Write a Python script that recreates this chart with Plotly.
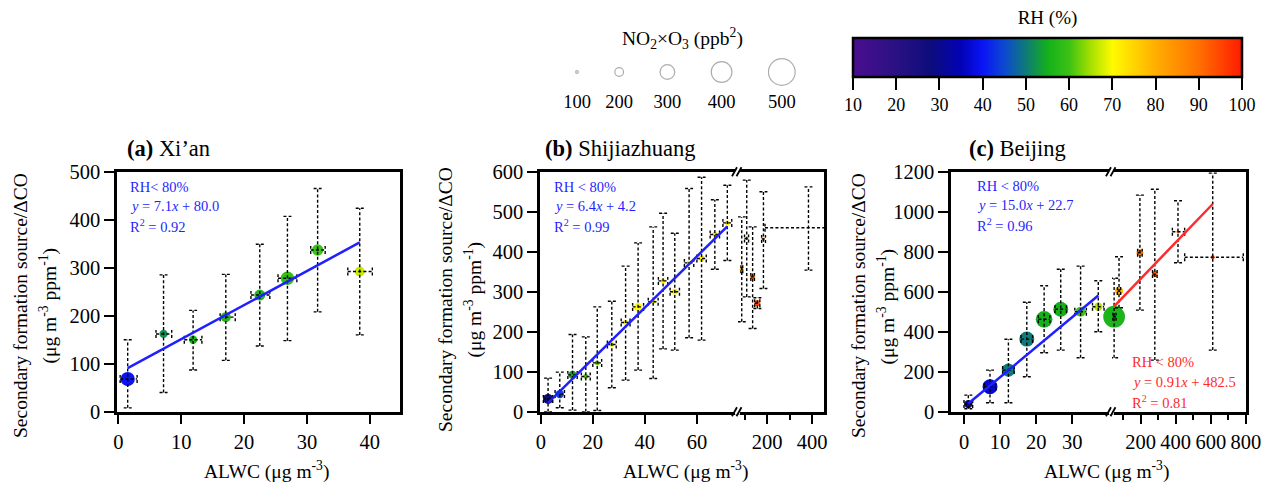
import plotly.graph_objects as go

W, H = 1261, 485
FONT = "Liberation Serif"

# ---------------- data ----------------
# (a) Xi'an
a_alwc = [1.5, 7.2, 11.9, 17.1, 22.5, 26.9, 31.7, 38.4]
a_val = [68, 162, 150, 197, 243, 278, 337, 292]
a_ylo = [8, 40, 87, 107, 137, 148, 208, 160]
a_yhi = [150, 285, 211, 286, 349, 407, 465, 424]
a_xlo = [0.3, 6.0, 10.5, 16.2, 21.1, 25.4, 30.6, 36.5]
a_xhi = [3.0, 8.5, 13.3, 18.6, 24.1, 28.4, 32.9, 40.4]
a_rh = [40, 52, 56, 57, 57, 59, 60, 67]
a_no2o3 = [293, 193, 193, 222, 238, 277, 245, 222]

# (b) Shijiazhuang
b_alwc = [2.8, 7.3, 12.2, 17.3, 21.7, 27.3, 32.6, 37.4, 43.2, 47.0, 51.5, 57.0, 61.8, 66.9, 71.7,
          87.6, 109.8, 136, 157, 184, 384]
b_val = [32, 44, 92, 88, 122, 168, 223, 262, 275, 327, 300, 372, 383, 443, 472,
         356, 433, 337, 271, 432, 460]
b_ylo = [0, 10, 4, 0, 3, 60, 79, 104, 83, 157, 154, 185, 179, 356, 378,
         225, 287, 208, 258, 308, 354]
b_yhi = [84, 99, 193, 187, 262, 276, 364, 422, 462, 496, 446, 558, 586, 530, 566,
         487, 579, 462, 285, 550, 562]
b_xlo = [1.0, 5.5, 10.4, 15.6, 20.0, 25.6, 30.9, 35.3, 41.3, 45.2, 49.7, 55.2, 60.0, 65.1, 70.0,
         84, 100, 128, 145, 176, 191]
b_xhi = [4.6, 9.1, 14.0, 19.0, 23.4, 29.0, 34.3, 39.5, 45.1, 48.8, 53.3, 58.8, 63.6, 68.7, 73.4,
         92, 118, 144, 168, 193, 470]
b_rh = [28, 45, 54, 61, 62, 69, 70, 70, 70, 71, 71, 71, 72, 74, 72,
        79, 84, 92, 95, 86, 90]
b_no2o3 = [222, 193, 193, 138, 138, 138, 138, 193, 138, 138, 155, 138, 155, 138, 138,
           122, 105, 138, 155, 105, 90]

# (c) Beijing
c_alwc = [1.2, 7.2, 12.3, 17.4, 22.2, 26.8, 32.3, 37.2, 49, 77, 196, 281, 413, 611]
c_val = [38, 125, 208, 363, 462, 512, 500, 525, 475, 603, 795, 688, 900, 772]
c_ylo = [15, 45, 45, 175, 295, 308, 270, 400, 270, 520, 508, 258, 745, 308]
c_yhi = [83, 208, 362, 547, 630, 712, 728, 655, 667, 775, 1083, 1112, 1055, 1193]
c_xlo = [0.0, 5.6, 10.7, 15.8, 20.6, 25.2, 30.7, 35.6, 42, 68, 183, 268, 381, 451]
c_xhi = [2.4, 8.8, 13.9, 19.0, 23.8, 28.4, 33.9, 38.8, 60, 86, 209, 294, 451, 785]
c_rh = [28, 37, 50, 50, 55, 55, 60, 66, 56, 79, 89, 93, 92, 97]
c_no2o3 = [193, 305, 277, 305, 333, 305, 222, 193, 417, 193, 167, 155, 105, 122]

# fits (slope, intercept)
fit_a = (7.1, 80.0)
fit_b = (6.4, 4.2)
fit_c_low = (15.0, 22.7)
fit_c_high = (0.91, 482.5)

legend_no2o3 = [100, 200, 300, 400, 500]
rh_ticks = [10, 20, 30, 40, 50, 60, 70, 80, 90, 100]

CS = [
    [0.000, '#4a0e8f'], [0.111, '#2a1183'], [0.200, '#0d0c7c'], [0.280, '#0202b8'],
    [0.333, '#0a14f5'], [0.390, '#0c4ad0'], [0.444, '#0f7a78'], [0.500, '#13b01c'],
    [0.556, '#3cc214'], [0.611, '#a6e000'], [0.667, '#fffa00'], [0.778, '#ffae00'],
    [0.889, '#ff7000'], [1.000, '#ff1a00'],
]

BLUE = '#1f1fff'
RED = '#ff2a2a'


def px2x(px):
    return px / W


def py2y(py):
    return (H - py) / H


def msize(v):
    return max(2.0, 0.06 * v - 3.3)


Y_TOP, Y_BOT = 171.7, 411.7
Y_DOM = [py2y(Y_BOT), py2y(Y_TOP)]

SEG = {
    'a': dict(xa='x', ya='y', dom=(117, 400), rng=(-0.2, 44.8), ymax=500),
    'bl': dict(xa='x2', ya='y2', dom=(540, 738), rng=(-0.3, 75.8), ymax=600),
    'br': dict(xa='x3', ya='y3', dom=(738, 824), rng=(71, 453), ymax=600),
    'cl': dict(xa='x4', ya='y4', dom=(951, 1112), rng=(-3.6, 41), ymax=1200),
    'cr': dict(xa='x5', ya='y5', dom=(1112, 1246), rng=(37, 800.5), ymax=1200),
}

fig = go.Figure()


def add_segment(seg, xs, ys, ylo, yhi, xlo, xhi, rh, no2o3, fit=None, fitcolor=BLUE):
    s = SEG[seg]
    if not xs:
        return
    ux = (s['rng'][1] - s['rng'][0]) / (s['dom'][1] - s['dom'][0])
    uy = s['ymax'] / (Y_BOT - Y_TOP)
    cx, cy = 4 * ux, 4 * uy
    fig.add_trace(go.Scatter(
        x=xs, y=ys, mode='markers', xaxis=s['xa'], yaxis=s['ya'],
        marker=dict(size=[msize(v) for v in no2o3], color=rh, coloraxis='coloraxis',
                    line=dict(width=0), opacity=1),
        cliponaxis=False, showlegend=False, hoverinfo='skip'))
    lx, ly = [], []
    for x, y, lo, hi, xl, xh in zip(xs, ys, ylo, yhi, xlo, xhi):
        lx += [x, x, None, x - cx, x + cx, None, x - cx, x + cx, None]
        ly += [lo, hi, None, lo, lo, None, hi, hi, None]
        lx += [xl, xh, None, xl, xl, None, xh, xh, None]
        ly += [y, y, None, y - cy, y + cy, None, y - cy, y + cy, None]
    fig.add_trace(go.Scatter(
        x=lx, y=ly, mode='lines', xaxis=s['xa'], yaxis=s['ya'],
        line=dict(color='black', width=1.4, dash='3px,2.2px'),
        showlegend=False, hoverinfo='skip'))
    if fit is not None:
        fx = [min(xs), max(xs)]
        fy = [fit[0] * v + fit[1] for v in fx]
        fig.add_trace(go.Scatter(
            x=fx, y=fy, mode='lines', xaxis=s['xa'], yaxis=s['ya'],
            line=dict(color=fitcolor, width=2.5), showlegend=False, hoverinfo='skip'))


def split(limit, *arrs):
    idx_l = [i for i, v in enumerate(arrs[0]) if v < limit]
    idx_r = [i for i, v in enumerate(arrs[0]) if v >= limit]
    left = [[a[i] for i in idx_l] for a in arrs]
    right = [[a[i] for i in idx_r] for a in arrs]
    return left, right


add_segment('a', a_alwc, a_val, a_ylo, a_yhi, a_xlo, a_xhi, a_rh, a_no2o3, fit=fit_a)

bL, bR = split(75, b_alwc, b_val, b_ylo, b_yhi, b_xlo, b_xhi, b_rh, b_no2o3)
add_segment('bl', *bL, fit=fit_b)
add_segment('br', *bR)

cL, cR = split(40, c_alwc, c_val, c_ylo, c_yhi, c_xlo, c_xhi, c_rh, c_no2o3)
add_segment('cl', *cL, fit=fit_c_low)
add_segment('cr', *cR, fit=fit_c_high, fitcolor=RED)

# size legend
d_leg = [msize(v) for v in legend_no2o3]
leg_x = [577.0]
for i in range(1, len(d_leg)):
    leg_x.append(leg_x[-1] + 36.5 + (d_leg[i - 1] + d_leg[i]) / 2)
fig.add_trace(go.Scatter(
    x=leg_x, y=[72] * len(leg_x), mode='markers', xaxis='x6', yaxis='y6',
    marker=dict(symbol='circle-open', size=d_leg, color='#8a8a8a', line=dict(width=1.2)),
    showlegend=False, hoverinfo='skip', cliponaxis=False))
fig.add_trace(go.Scatter(
    x=leg_x, y=[103] * len(leg_x), mode='text', xaxis='x6', yaxis='y6',
    text=[str(v) for v in legend_no2o3], textfont=dict(family=FONT, size=18.5, color='black'),
    showlegend=False, hoverinfo='skip', cliponaxis=False))

# ---------------- axes ----------------
common = dict(showline=True, linecolor='black', linewidth=2.5, ticks='outside', ticklen=10,
              tickwidth=2.2, tickcolor='black',
              tickfont=dict(family=FONT, size=20.5, color='black'),
              showgrid=False, zeroline=False, automargin=False, fixedrange=True,
              ticklabeloverflow='allow')


def xdom(seg):
    d = SEG[seg]['dom']
    return [px2x(d[0]), px2x(d[1])]


lay = dict(
    xaxis=dict(common, domain=xdom('a'), range=list(SEG['a']['rng']), tickvals=[0, 10, 20, 30, 40],
               mirror=True, anchor='y'),
    yaxis=dict(common, domain=Y_DOM, range=[0, 500], tickvals=[0, 100, 200, 300, 400, 500],
               mirror=True, anchor='x'),
    xaxis2=dict(common, domain=xdom('bl'), range=list(SEG['bl']['rng']), tickvals=[0, 20, 40, 60],
                mirror=True, anchor='y2'),
    yaxis2=dict(common, domain=Y_DOM, range=[0, 600], tickvals=[0, 100, 200, 300, 400, 500, 600],
                mirror=False, anchor='x2'),
    xaxis3=dict(common, domain=xdom('br'), range=list(SEG['br']['rng']), tickvals=[200, 400],
                minor=dict(tickvals=[100, 300], ticks='outside', ticklen=6, tickwidth=2, tickcolor='black'),
                mirror=True, anchor='y3'),
    yaxis3=dict(common, domain=Y_DOM, range=[0, 600], ticks='', showticklabels=False,
                side='right', anchor='x3'),
    xaxis4=dict(common, domain=xdom('cl'), range=list(SEG['cl']['rng']), tickvals=[0, 10, 20, 30],
                mirror=True, anchor='y4'),
    yaxis4=dict(common, domain=Y_DOM, range=[0, 1200], tickvals=list(range(0, 1201, 200)),
                mirror=False, anchor='x4'),
    xaxis5=dict(common, domain=xdom('cr'), range=list(SEG['cr']['rng']), tickvals=[200, 400, 600, 800],
                minor=dict(tickvals=[100, 300, 500, 700], ticks='outside', ticklen=6, tickwidth=2,
                           tickcolor='black'),
                mirror=True, anchor='y5'),
    yaxis5=dict(common, domain=Y_DOM, range=[0, 1200], ticks='', showticklabels=False,
                side='right', anchor='x5'),
    xaxis6=dict(domain=[px2x(560), px2x(800)], range=[560, 800], visible=False, fixedrange=True,
                anchor='y6'),
    yaxis6=dict(domain=[py2y(120), py2y(20)], range=[120, 20], visible=False, fixedrange=True,
                anchor='x6'),
)

# ---------------- annotations ----------------
ann = []


def text(x, y, t, size=19, color='black', xanchor='left', angle=0):
    ann.append(dict(x=px2x(x), y=py2y(y), xref='paper', yref='paper', text=t, showarrow=False,
                    xanchor=xanchor, yanchor='middle', textangle=angle,
                    font=dict(family=FONT, size=size, color=color)))


text(125, 148, '<b>(a)</b> Xi’an', size=22.5)
text(542.7, 148, '<b>(b)</b> Shijiazhuang', size=22.5)
text(966.7, 148, '<b>(c)</b> Beijing', size=22.5)

ytl1 = 'Secondary formation source/ΔCO'
ytl2 = '(μg m<sup>-3</sup> ppm<sup>-1</sup>)'
for x1, yc in [(20, 306), (445, 300), (858, 306)]:
    text(x1, yc, ytl1, size=19.5, xanchor='center', angle=-90)
    text(x1 + 27.5, yc, ytl2, size=19.5, xanchor='center', angle=-90)

xtl = 'ALWC (μg m<sup>-3</sup>)'
for xc in [266, 686, 1106]:
    text(xc, 470, xtl, size=19.5, xanchor='center')

S = 14.5
text(128, 187.3, 'RH&lt; 80%', size=S, color=BLUE)
text(128, 206, '<i>y</i> = 7.1<i>x</i> + 80.0', size=S, color=BLUE)
text(128, 226, 'R<sup>2</sup> = 0.92', size=S, color=BLUE)

text(551.7, 187.3, 'RH &lt; 80%', size=S, color=BLUE)
text(551.7, 206, '<i>y</i> = 6.4<i>x</i> + 4.2', size=S, color=BLUE)
text(551.7, 226, 'R<sup>2</sup> = 0.99', size=S, color=BLUE)

text(975, 185.5, 'RH &lt; 80%', size=S, color=BLUE)
text(975, 205, '<i>y</i> = 15.0<i>x</i> + 22.7', size=S, color=BLUE)
text(975, 225, 'R<sup>2</sup> = 0.96', size=S, color=BLUE)

text(1130, 362.3, 'RH &lt; 80%', size=S, color=RED)
text(1130, 381.7, '<i>y</i> = 0.91<i>x</i> + 482.5', size=S, color=RED)
text(1130, 401.7, 'R<sup>2</sup> = 0.81', size=S, color=RED)

text(682, 38, 'NO<sub>2</sub>×O<sub>3</sub> (ppb<sup>2</sup>)', size=19.5, xanchor='center')

# ---------------- break marks ----------------
shapes = []
for bx in [738, 1112]:
    for yy in [Y_TOP, Y_BOT]:
        shapes.append(dict(type='rect', xref='paper', yref='paper',
                           x0=px2x(bx - 3), x1=px2x(bx + 2), y0=py2y(yy + 3), y1=py2y(yy - 3),
                           fillcolor='white', line=dict(width=0)))
        for off in (-3.5, 1.0):
            shapes.append(dict(type='line', xref='paper', yref='paper',
                               x0=px2x(bx + off - 2.5), y0=py2y(yy + 4.5),
                               x1=px2x(bx + off + 2.5), y1=py2y(yy - 4.5),
                               line=dict(color='black', width=1.8)))

fig.update_layout(
    width=W, height=H, margin=dict(l=0, r=0, t=0, b=0),
    paper_bgcolor='white', plot_bgcolor='white',
    font=dict(family=FONT, color='black'),
    showlegend=False,
    annotations=ann, shapes=shapes,
    coloraxis=dict(
        colorscale=CS, cmin=10, cmax=100,
        colorbar=dict(
            orientation='h', x=px2x(1047.5), xanchor='center', y=py2y(38.3 - 22), yanchor='top',
            len=389 / W, lenmode='fraction', thickness=39, thicknessmode='pixels',
            outlinewidth=2.5, outlinecolor='black', xpad=0, ypad=0,
            ticks='outside', ticklen=12, tickwidth=2, tickcolor='black',
            tickvals=rh_ticks, tickfont=dict(family=FONT, size=18, color='black'),
            title=dict(text='RH (%)', side='top', font=dict(family=FONT, size=19, color='black')),
        ),
    ),
    **lay,
)

fig.write_html("out.html", config={'displayModeBar': False},
               post_script="document.body.style.margin='0px';document.body.style.padding='0px';")
